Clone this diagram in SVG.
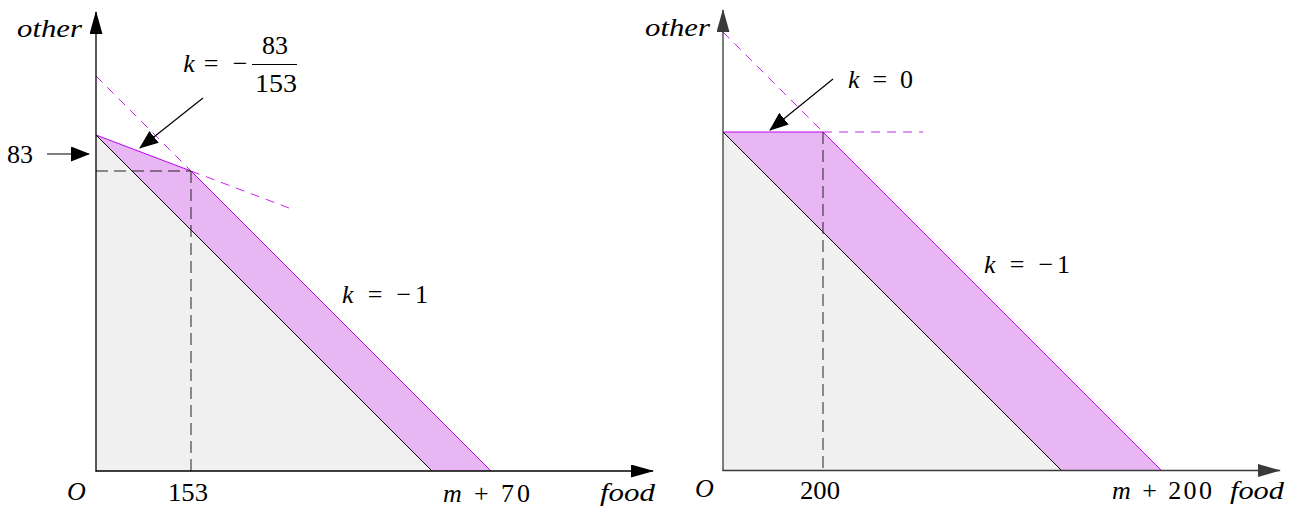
<svg xmlns="http://www.w3.org/2000/svg" width="1297" height="507" viewBox="0 0 1297 507">
<style>
.it{font-style:italic}
.grey{fill:#f0f0f0;stroke:none}
.band{fill:#e9b6f4;stroke:none}
</style>
<defs>
<marker id="ah" viewBox="0 0 23 13" markerWidth="23" markerHeight="13" refX="22" refY="6.5" orient="auto" markerUnits="userSpaceOnUse">
<path d="M0,0 L23,6.5 L0,13 z" fill="#000"/>
</marker>
<marker id="ah2" viewBox="0 0 23 13" markerWidth="23" markerHeight="13" refX="22" refY="6.5" orient="auto" markerUnits="userSpaceOnUse">
<path d="M0,0 L23,6.5 L0,13 z" fill="#3a3a3a"/>
</marker>
<marker id="an" viewBox="0 0 19 15" markerWidth="19" markerHeight="15" refX="18" refY="7.5" orient="auto" markerUnits="userSpaceOnUse">
<path d="M0,0 L19,7.5 L0,15 z" fill="#000"/>
</marker>
</defs>

<!-- LEFT CHART -->
<g id="left-region-grey"><polygon class="grey" points="96,135 96,471 432,471"/></g>
<g id="left-region-band">
<polygon class="band" points="96,135 191,171 491,471 432,471"/>
<polyline points="96,135 191,171 491,471" fill="none" stroke="#c000f0" stroke-width="1"/>
<line x1="96" y1="135" x2="432" y2="471" stroke="#000" stroke-width="1"/>
</g>
<g id="left-guides">
<line x1="96" y1="76" x2="191" y2="171" stroke="#cc22ee" stroke-width="1" stroke-dasharray="9 7"/>
<line x1="191" y1="171" x2="289" y2="208" stroke="#cc22ee" stroke-width="1" stroke-dasharray="9 7"/>
<line x1="96" y1="171" x2="191" y2="171" stroke="#222" stroke-width="1" stroke-dasharray="12 6"/>
<line x1="191" y1="171" x2="191" y2="471" stroke="#222" stroke-width="1" stroke-dasharray="12 6"/>
</g>

<!-- RIGHT CHART -->
<g id="right-region-grey"><polygon class="grey" points="723,132 723,471 1062,471"/></g>
<g id="right-region-band">
<polygon class="band" points="723,132 823,132 1162,471 1062,471"/>
<polyline points="723,132 823,132 1162,471" fill="none" stroke="#c000f0" stroke-width="1"/>
<line x1="723" y1="132" x2="1062" y2="471" stroke="#000" stroke-width="1"/>
</g>
<g id="right-guides">
<line x1="723" y1="32" x2="823" y2="132" stroke="#cc22ee" stroke-width="1" stroke-dasharray="9 7"/>
<line x1="823" y1="132" x2="923" y2="132" stroke="#cc22ee" stroke-width="1" stroke-dasharray="9 7"/>
<line x1="823" y1="132" x2="823" y2="471" stroke="#222" stroke-width="1" stroke-dasharray="12 6"/>
</g>

<g id="connectors" fill="none">
<line x1="96" y1="471.5" x2="96" y2="12" stroke="#000" stroke-width="1.3" marker-end="url(#ah)"/>
<line x1="95.5" y1="471" x2="653" y2="471" stroke="#000" stroke-width="1.3" marker-end="url(#ah)"/>
<line x1="723" y1="471" x2="723" y2="10" stroke="#3a3a3a" stroke-width="1.3" marker-end="url(#ah2)"/>
<line x1="722.5" y1="470.5" x2="1280" y2="470.5" stroke="#3a3a3a" stroke-width="1.3" marker-end="url(#ah2)"/>
<line x1="47" y1="154" x2="89" y2="154" stroke="#000" stroke-width="1.2" marker-end="url(#an)"/>
<line x1="203" y1="98" x2="140" y2="148" stroke="#000" stroke-width="1.2" marker-end="url(#an)"/>
<line x1="833" y1="79" x2="770" y2="130" stroke="#000" stroke-width="1.2" marker-end="url(#an)"/>
</g>

<g id="labels-left" fill="#000" font-family="'Liberation Serif', 'Times New Roman', serif" font-size="26">
<text id="l-other" class="it" x="17" y="37" textLength="65" lengthAdjust="spacingAndGlyphs">other</text>
<text id="l-83" x="7" y="163" textLength="26" lengthAdjust="spacingAndGlyphs">83</text>
<g id="l-k-frac">
<text class="it" x="189" y="72" text-anchor="middle">k</text>
<text x="211" y="72" text-anchor="middle">=</text>
<text x="240" y="72" text-anchor="middle">−</text>
<line x1="252" y1="64.5" x2="297" y2="64.5" stroke="#000" stroke-width="1.2"/>
<text x="275" y="54" text-anchor="middle" textLength="26" lengthAdjust="spacingAndGlyphs">83</text>
<text x="276" y="92" text-anchor="middle" textLength="42" lengthAdjust="spacingAndGlyphs">153</text>
</g>
<text id="l-kneg1" x="342" y="303" textLength="86"><tspan class="it">k</tspan> = −1</text>
<text id="l-O" class="it" x="67" y="500">O</text>
<text id="l-153" x="188" y="501" text-anchor="middle" textLength="40" lengthAdjust="spacingAndGlyphs">153</text>
<text id="l-m70" x="443" y="502" textLength="87"><tspan class="it">m</tspan> + 70</text>
<text id="l-food" class="it" x="600" y="501" textLength="55" lengthAdjust="spacingAndGlyphs">food</text>
</g>

<g id="labels-right" fill="#000" font-family="'Liberation Serif', 'Times New Roman', serif" font-size="26">
<text id="r-other" class="it" x="645" y="36" textLength="65" lengthAdjust="spacingAndGlyphs">other</text>
<text id="r-k0" x="848" y="88" textLength="65"><tspan class="it">k</tspan> = 0</text>
<text id="r-kneg1" x="984" y="273" textLength="86"><tspan class="it">k</tspan> = −1</text>
<text id="r-O" class="it" x="695" y="497">O</text>
<text id="r-200" x="820" y="499" text-anchor="middle" textLength="40" lengthAdjust="spacingAndGlyphs">200</text>
<text id="r-m200" x="1112" y="499" textLength="100"><tspan class="it">m</tspan> + 200</text>
<text id="r-food" class="it" x="1230" y="499" textLength="54" lengthAdjust="spacingAndGlyphs">food</text>
</g>
</svg>
